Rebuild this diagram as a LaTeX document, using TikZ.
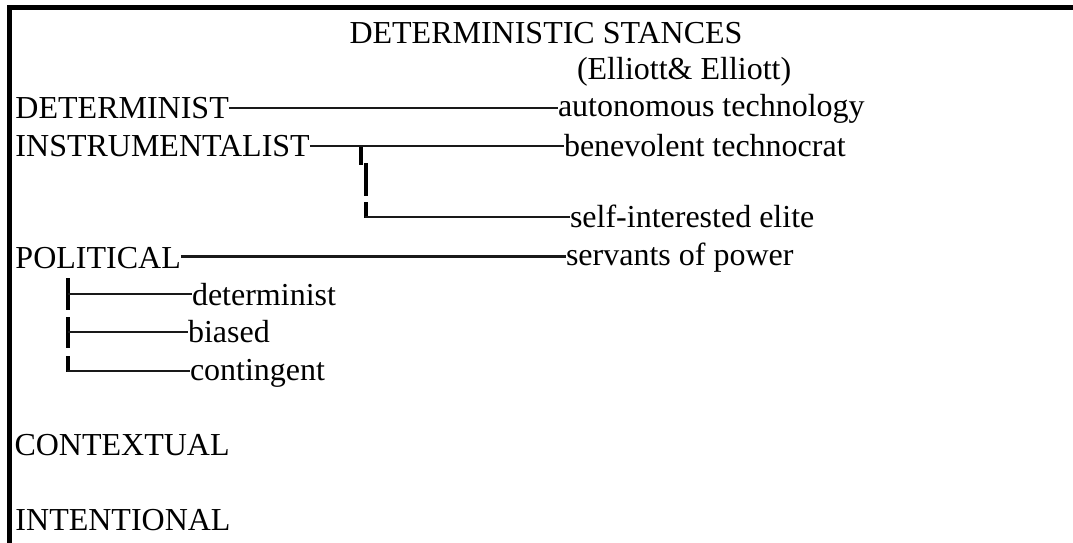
\documentclass[tikz,border=0pt]{standalone}
\usepackage{fontspec}
\setmainfont{Liberation Serif}
\begin{document}
\begin{tikzpicture}[x=0.5pt,y=-0.5pt,
  lbl/.style={inner sep=0pt,outer sep=0pt,anchor=base west,font=\fontsize{16}{16}\selectfont},
  hline/.style={line width=1.15pt,black!90},
  vbar/.style={line width=2pt,black},
  frame/.style={line width=2.3pt,black}]
\useasboundingbox (0,0) rectangle (1073,542);
\draw[frame] (9.2,545) -- (9.2,7.2) -- (1076,7.2);

% title
\node[lbl,anchor=base] (title) at (546,43) {DETERMINISTIC STANCES};
\node[lbl] (src) at (577,79) {(Elliott\& Elliott)};

% left column
\node[lbl] (det) at (15.5,118) {DETERMINIST};
\node[lbl] (ins) at (15.5,156) {INSTRUMENTALIST};
\node[lbl] (pol) at (15.5,268) {POLITICAL};
\node[lbl] (ctx) at (14.5,455) {CONTEXTUAL};
\node[lbl] (int) at (15.5,530) {INTENTIONAL};

% right column
\node[lbl] (auto) at (558,116) {autonomous technology};
\node[lbl] (bene) at (564,156) {benevolent technocrat};
\node[lbl] (self) at (570,227) {self-interested elite};
\node[lbl] (serv) at (566,265) {servants of power};

% political sub-items
\node[lbl] (pdet) at (192,305) {determinist};
\node[lbl] (pbia) at (188,342) {biased};
\node[lbl] (pcon) at (190,380) {contingent};

% main connectors
\coordinate (dl) at (det.east |- 0,108);
\draw[hline] (dl) -- (dl -| auto.west);
\coordinate (il) at (ins.east |- 0,146);
\draw[hline] (il) -- (il -| bene.west);
\coordinate (pl) at (pol.east |- 0,256.5);
\draw[hline] (pl) -- (pl -| serv.west);

% instrumentalist branch
\coordinate (ia) at (360.5,147);
\coordinate (ib) at (360.5,165);
\coordinate (ic) at (366,163);
\coordinate (id) at (366,196);
\coordinate (ie) at (366,202);
\coordinate (ig) at (366,218);
\coordinate (ih) at (364.5,217);
\draw[vbar] (ia) -- (ib);
\draw[vbar] (ic) -- (id);
\draw[vbar] (ie) -- (ig);
\draw[hline] (ih) -- (ih -| self.west);

% political bracket
\coordinate (pa) at (67.5,278);
\coordinate (pb) at (67.5,310);
\coordinate (pc) at (67.5,317);
\coordinate (pd) at (67.5,348);
\coordinate (pe) at (67.5,356);
\coordinate (pf) at (67.5,372);
\draw[vbar] (pa) -- (pb);
\draw[vbar] (pc) -- (pd);
\draw[vbar] (pe) -- (pf);
\coordinate (h1) at (67.5,294);
\coordinate (h2) at (67.5,332);
\coordinate (h3) at (66.5,371);
\draw[hline] (h1) -- (h1 -| pdet.west);
\draw[hline] (h2) -- (h2 -| pbia.west);
\draw[hline] (h3) -- (h3 -| pcon.west);
\end{tikzpicture}
\end{document}
